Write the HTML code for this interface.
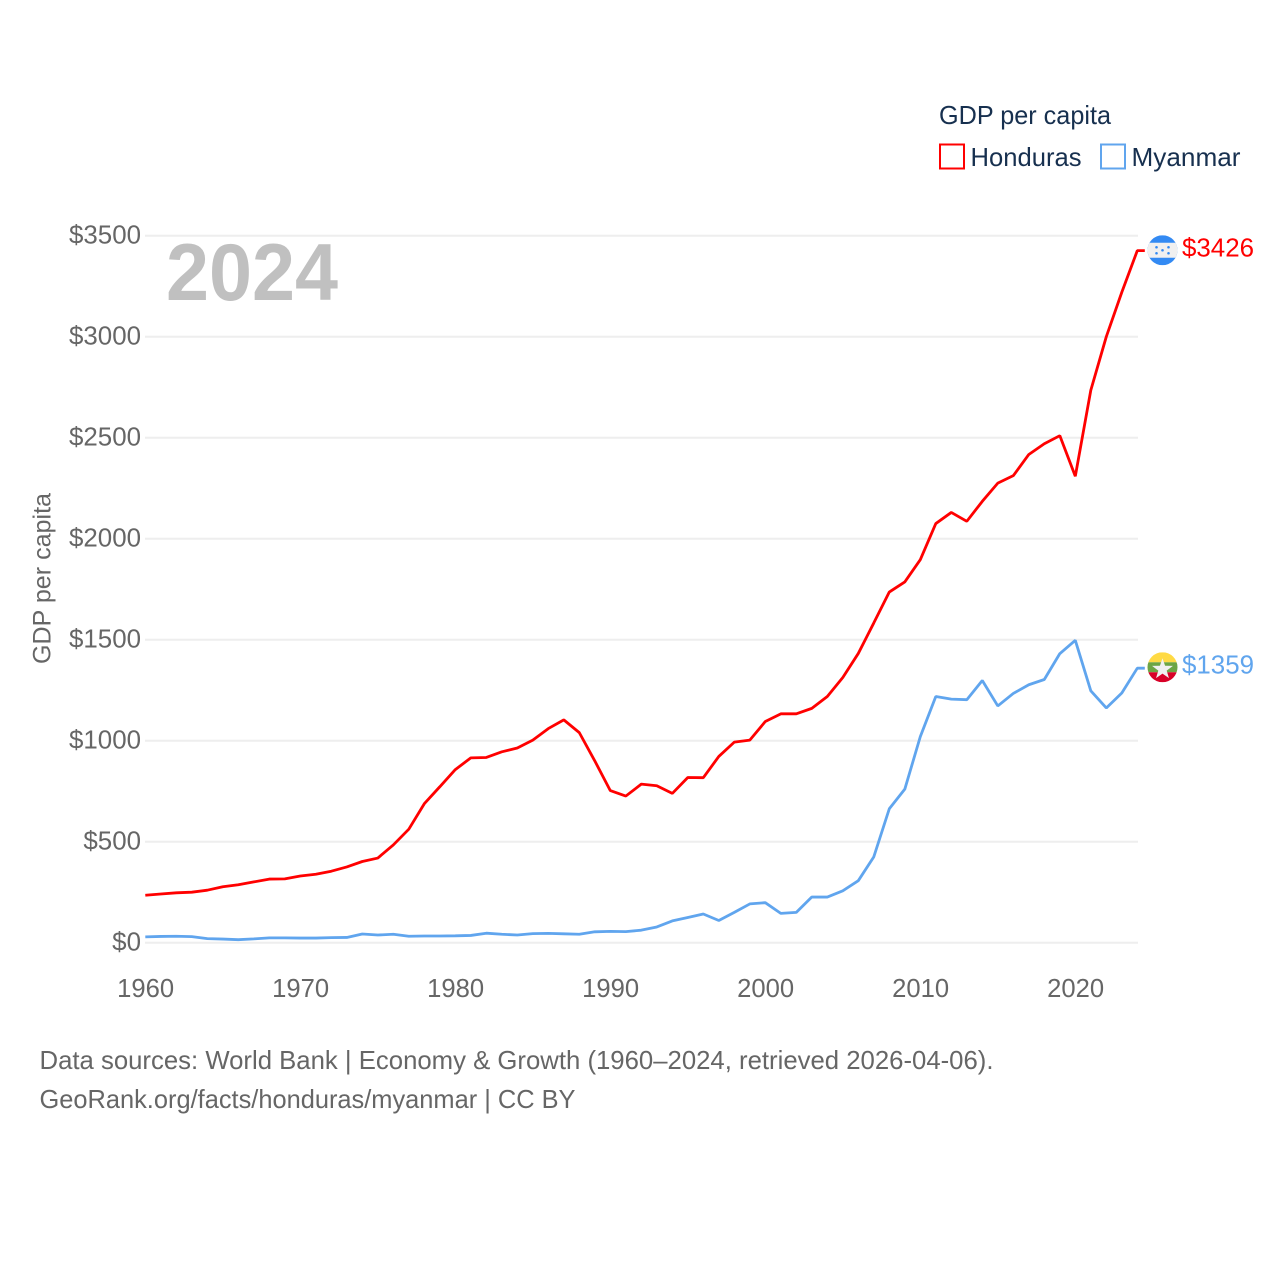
<!DOCTYPE html>
<html lang="en">
<head>
<meta charset="utf-8">
<title>GDP per capita: Honduras and Myanmar</title>
<style>
  html, body { margin: 0; padding: 0; background: #fff; }
  svg { display: block; font-family: "Liberation Sans", sans-serif; }
</style>
</head>
<body>
<svg id="chart" xmlns="http://www.w3.org/2000/svg" width="1280" height="1280" viewBox="0 0 1280 1280">
  <rect width="1280" height="1280" fill="#ffffff"/>
  <g id="grid"></g>
  <g id="yticks"></g>
  <g id="xticks"></g>
  <text transform="translate(50.5,578.5) rotate(-90)" text-anchor="middle" font-size="25" fill="#666666" textLength="171" lengthAdjust="spacingAndGlyphs">GDP per capita</text>
  <text x="166" y="300" font-size="81" font-weight="700" fill="#c0c0c0" textLength="172" lengthAdjust="spacingAndGlyphs">2024</text>
  <g id="series"></g>
  <g id="endmarks"></g>

  <g>
    <text x="939" y="124" font-size="26" fill="#17304f" textLength="172" lengthAdjust="spacingAndGlyphs">GDP per capita</text>
    <g>
      <rect x="940" y="144.5" width="24" height="24" fill="#ffffff" stroke="#ff0000" stroke-width="2"/>
      <text x="970.5" y="166" font-size="26" fill="#17304f" textLength="111" lengthAdjust="spacingAndGlyphs">Honduras</text>
    </g>
    <g>
      <rect x="1101" y="144.5" width="24" height="24" fill="#ffffff" stroke="#60a5ee" stroke-width="2"/>
      <text x="1131.5" y="166" font-size="26" fill="#17304f" textLength="109" lengthAdjust="spacingAndGlyphs">Myanmar</text>
    </g>
  </g>

  <g>
    <text x="39.5" y="1069" font-size="26" fill="#666666" textLength="954" lengthAdjust="spacingAndGlyphs">Data sources: World Bank | Economy &amp; Growth (1960–2024, retrieved 2026-04-06).</text>
    <text x="39.5" y="1108" font-size="26" fill="#666666" textLength="536" lengthAdjust="spacingAndGlyphs">GeoRank.org/facts/honduras/myanmar | CC BY</text>
  </g>
</svg>
<script>
const firstYear = 1960;
const xTickYears = [1960, 1970, 1980, 1990, 2000, 2010, 2020];
const yTickValues = [0, 500, 1000, 1500, 2000, 2500, 3000, 3500];
const hondurasValues = [235, 241, 247, 250, 260, 277, 287, 301, 315, 316,
  330, 339, 354, 375, 402, 419, 484, 562, 688, 772,
  857, 915, 917, 945, 964, 1003, 1060, 1103, 1040, 900,
  753, 726, 785, 777, 739, 818, 817, 922, 993, 1003,
  1095, 1133, 1133, 1160, 1219, 1313, 1432, 1583, 1736, 1786,
  1896, 2075, 2130, 2086, 2185, 2275, 2312, 2417, 2470, 2510,
  2309, 2735, 3000, 3220, 3426];
const myanmarValues = [29, 31, 32, 30, 20, 18, 15, 19, 24, 24,
  23, 23, 25, 26, 43, 38, 42, 32, 33, 33,
  34, 36, 47, 42, 38, 45, 46, 44, 42, 54,
  56, 55, 62, 78, 108, 125, 142, 110, 150, 192,
  198, 145, 150, 226, 226, 257, 307, 425, 663, 760,
  1020, 1219, 1206, 1203, 1298, 1172, 1234, 1277, 1303, 1431,
  1497, 1247, 1162, 1236, 1359];

const NS = 'http://www.w3.org/2000/svg';
const xOf = function (year) { return 145.3 + (year - 1960) * 15.5; };
const yOf = function (value) { return 942.7 - value * 0.202; };
const lastYear = firstYear + hondurasValues.length - 1;

function make(tag, attrs, parent, text) {
  const el = document.createElementNS(NS, tag);
  for (const k in attrs) el.setAttribute(k, attrs[k]);
  if (text !== undefined) el.textContent = text;
  parent.appendChild(el);
  return el;
}

const gridG = document.getElementById('grid');
const yTickG = document.getElementById('yticks');
yTickValues.forEach(function (v) {
  const line = make('line', { x1: 145, x2: 1138, y1: yOf(v), y2: yOf(v), stroke: '#eeeeee', 'stroke-width': 2 }, gridG);
  
  
  const text = '$' + v;
  const label = make('text', { x: 141, y: yOf(v) + 7.6, 'text-anchor': 'end', 'font-size': 25.6, fill: '#666666', textLength: text.length * 14.4, lengthAdjust: 'spacingAndGlyphs' }, yTickG, text);
  
  
});

const xTickG = document.getElementById('xticks');
xTickYears.forEach(function (yr) {
  const label = make('text', { x: xOf(yr) + 0.3, y: 997, 'text-anchor': 'middle', 'font-size': 25.6, fill: '#666666' }, xTickG, String(yr));
  
  
});

function linePoints(values) {
  const pts = values.map(function (v, i) { return xOf(firstYear + i) + ',' + yOf(v); });
  pts.push((xOf(lastYear) + 7.5) + ',' + yOf(values[values.length - 1]));
  return pts.join(' ');
}

const seriesG = document.getElementById('series');
const hondurasLine = make('polyline', { points: linePoints(hondurasValues), fill: 'none', stroke: '#ff0000', 'stroke-width': 2.8, 'stroke-linejoin': 'bevel' }, seriesG);


const myanmarLine = make('polyline', { points: linePoints(myanmarValues), fill: 'none', stroke: '#60a5ee', 'stroke-width': 2.8, 'stroke-linejoin': 'bevel' }, seriesG);



const endG = document.getElementById('endmarks');
const defs = make('defs', {}, endG);
const flagX = 1162.5;
const flagR = 15;

/* Honduras flag */
const hY = yOf(hondurasValues[hondurasValues.length - 1]) - 0.4;
const hClip = make('clipPath', { id: 'clip-hn' }, defs);
make('circle', { cx: flagX, cy: hY, r: flagR }, hClip);
const hFlag = make('g', { 'clip-path': 'url(#clip-hn)' }, endG);


make('rect', { x: flagX - flagR, y: hY - flagR, width: 30, height: 30, fill: '#338af3' }, hFlag);
make('rect', { x: flagX - flagR, y: hY - 7.5, width: 30, height: 15, fill: '#f0f0f0' }, hFlag);
[[-6, -3], [6, -3], [0, 0], [-6, 3], [6, 3]].forEach(function (d) {
  make('circle', { cx: flagX + d[0], cy: hY + d[1], r: 1.3, fill: '#338af3' }, hFlag);
});
const hLabel = make('text', { x: 1182, y: hY + 6.4, 'font-size': 26, fill: '#ff0000', textLength: 72, lengthAdjust: 'spacingAndGlyphs' }, endG, '$' + hondurasValues[hondurasValues.length - 1]);



/* Myanmar flag */
const mY = yOf(myanmarValues[myanmarValues.length - 1]) - 0.9;
const mClip = make('clipPath', { id: 'clip-mm' }, defs);
make('circle', { cx: flagX, cy: mY, r: flagR }, mClip);
const mFlag = make('g', { 'clip-path': 'url(#clip-mm)' }, endG);


make('rect', { x: flagX - flagR, y: mY - flagR, width: 30, height: 10, fill: '#ffda44' }, mFlag);
make('rect', { x: flagX - flagR, y: mY - 5, width: 30, height: 10, fill: '#6da544' }, mFlag);
make('rect', { x: flagX - flagR, y: mY + 5, width: 30, height: 10, fill: '#d80027' }, mFlag);
const starPts = [];
for (let i = 0; i < 10; i++) {
  const r = i % 2 === 0 ? 11 : 4.4;
  const a = -Math.PI / 2 + i * Math.PI / 5;
  starPts.push((flagX + r * Math.cos(a)) + ',' + (mY + 2 + r * Math.sin(a)));
}
make('polygon', { points: starPts.join(' '), fill: '#f0f0f0' }, mFlag);
const mLabel = make('text', { x: 1182, y: mY + 6.4, 'font-size': 26, fill: '#60a5ee', textLength: 72, lengthAdjust: 'spacingAndGlyphs' }, endG, '$' + myanmarValues[myanmarValues.length - 1]);


</script>
</body>
</html>
